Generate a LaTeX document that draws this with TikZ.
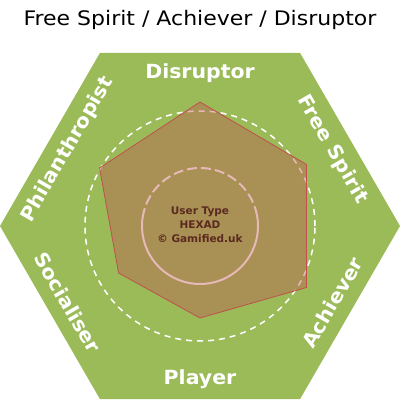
\documentclass[tikz,border=0pt]{standalone}
\usepackage{fontspec}
\setmainfont{DejaVu Sans}
\newfontfamily\widefont[FakeStretch=1.1]{DejaVu Sans}
\newfontfamily\widebold[FakeStretch=1.05]{DejaVu Sans Bold}
\usetikzlibrary{calc}
\definecolor{hexgreen}{HTML}{9BBB59}
\definecolor{radarred}{HTML}{C0504D}
\definecolor{hexbrown}{HTML}{5A2A20}

\begin{document}
\begin{tikzpicture}[x=1pt,y=1pt]
    \tikzstyle{every node}=[inner sep=0]
    \tikzstyle{typelabel}=[text=white, font=\widebold\fontsize{19.5}{22}\selectfont]
    \useasboundingbox (0,0) rectangle (400,400);
    \coordinate (C) at (200,174);
    % Title above the hexagon
    \node[font=\widefont\fontsize{20}{22}\selectfont] (TITLE) at (200,380) {Free Spirit / Achiever / Disruptor};
    % Hexagon corners
    \coordinate (H0) at ($(C)+(0:200)$);
    \coordinate (H1) at ($(C)+(60:200)$);
    \coordinate (H2) at ($(C)+(120:200)$);
    \coordinate (H3) at ($(C)+(180:200)$);
    \coordinate (H4) at ($(C)+(240:200)$);
    \coordinate (H5) at ($(C)+(300:200)$);
    \fill[hexgreen] (H0) -- (H1) -- (H2) -- (H3) -- (H4) -- (H5) -- cycle;
    % User type names along the edges
    \node[typelabel] (DIS) at ($(C)+(90:153)$) {Disruptor};
    \node[typelabel, rotate=-60] (FS) at ($(C)+(30:153)$) {Free Spirit};
    \node[typelabel, rotate=60] (ACH) at ($(C)+(-30:153)$) {Achiever};
    \node[typelabel] (PLA) at ($(C)+(-90:153)$) {Player};
    \node[typelabel, rotate=-60] (SOC) at ($(C)+(-150:153)$) {Socialiser};
    \node[typelabel, rotate=60] (PHI) at ($(C)+(150:153)$) {Philanthropist};
    % Rings
    \draw[white, line width=1.5, dash pattern=on 6 off 5] (C) circle (115);
    \draw[white, line width=2, dash pattern=on 10 off 4] ($(C)+(10:58)$) arc (10:170:58);
    \draw[white, line width=2] ($(C)+(170:58)$) arc (170:370:58);
    % Scores
    \coordinate (SDIS) at ($(C)+(90:124)$);
    \coordinate (SFS) at ($(C)+(30:123)$);
    \coordinate (SACH) at ($(C)+(-30:123)$);
    \coordinate (SPLA) at ($(C)+(-90:92)$);
    \coordinate (SSOC) at ($(C)+(-150:94)$);
    \coordinate (SPHI) at ($(C)+(150:116)$);
    \filldraw[draw=radarred, line width=.8, fill=radarred, fill opacity=.4]
        (SDIS) -- (SFS) -- (SACH) -- (SPLA) -- (SSOC) -- (SPHI) -- cycle;
    \node[text=hexbrown, align=center, font=\bfseries\fontsize{10.5}{14}\selectfont] (HEX) at ($(C)+(0,1)$) {User Type\\HEXAD\\© Gamified.uk};
\end{tikzpicture}
\end{document}
